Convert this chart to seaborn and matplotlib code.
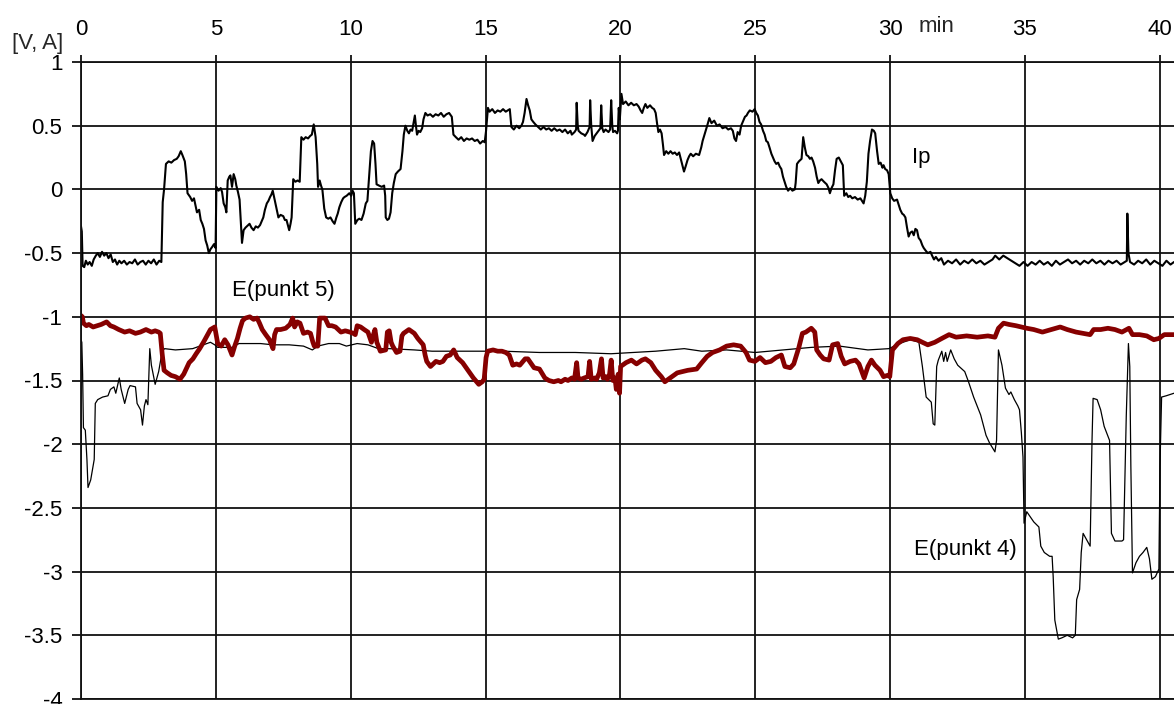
import matplotlib
matplotlib.use("Agg")
import matplotlib.pyplot as plt
import pandas as pd
import seaborn as sns

# ---------------- data (time in min, value in V / A) ----------------
IP_POINTS = [
    (0.00, -0.29), (0.03, -0.33), (0.06, -0.60), (0.12, -0.61), (0.18, -0.56), (0.25, -0.59),
    (0.32, -0.57), (0.40, -0.60), (0.47, -0.55), (0.55, -0.52), (0.62, -0.50), (0.70, -0.53),
    (0.78, -0.49), (0.86, -0.52), (0.94, -0.50), (1.02, -0.54), (1.10, -0.51), (1.18, -0.57),
    (1.26, -0.55), (1.34, -0.59), (1.42, -0.56), (1.50, -0.58), (1.60, -0.56), (1.70, -0.59),
    (1.80, -0.57), (1.90, -0.58), (2.00, -0.55), (2.10, -0.59), (2.20, -0.57), (2.30, -0.56),
    (2.40, -0.59), (2.50, -0.56), (2.60, -0.58), (2.70, -0.55), (2.80, -0.59), (2.90, -0.56),
    (2.98, -0.57), (3.03, -0.10), (3.08, 0.00), (3.15, 0.20), (3.25, 0.22), (3.35, 0.21),
    (3.45, 0.23), (3.55, 0.24), (3.62, 0.26), (3.70, 0.30), (3.76, 0.27), (3.85, 0.22),
    (3.90, 0.12), (3.95, -0.03), (4.05, -0.06), (4.12, -0.09), (4.19, -0.07), (4.25, -0.13),
    (4.30, -0.18), (4.38, -0.16), (4.44, -0.24), (4.50, -0.27), (4.56, -0.31), (4.62, -0.40),
    (4.68, -0.44), (4.74, -0.50), (4.80, -0.47), (4.87, -0.45), (4.93, -0.43), (4.99, -0.46),
    (5.02, 0.02), (5.10, -0.01), (5.18, 0.01), (5.23, -0.02), (5.29, -0.11), (5.35, -0.14),
    (5.39, -0.18), (5.44, 0.07), (5.50, 0.10), (5.54, 0.11), (5.60, 0.02), (5.66, 0.12),
    (5.72, 0.08), (5.76, 0.03), (5.82, -0.02), (5.88, -0.08), (5.97, -0.42), (6.03, -0.32),
    (6.10, -0.30), (6.15, -0.29), (6.25, -0.27), (6.32, -0.30), (6.40, -0.32), (6.48, -0.29),
    (6.56, -0.30), (6.64, -0.28), (6.70, -0.25), (6.76, -0.22), (6.82, -0.16), (6.89, -0.11),
    (6.95, -0.09), (7.01, -0.06), (7.06, -0.04), (7.11, -0.01), (7.15, -0.05), (7.19, -0.09),
    (7.25, -0.15), (7.32, -0.22), (7.40, -0.20), (7.50, -0.21), (7.56, -0.24), (7.62, -0.24),
    (7.67, -0.28), (7.72, -0.32), (7.77, -0.27), (7.81, -0.22), (7.87, 0.08), (7.95, 0.06),
    (8.03, 0.07), (8.11, 0.06), (8.17, 0.41), (8.25, 0.39), (8.33, 0.41), (8.42, 0.40),
    (8.50, 0.42), (8.56, 0.43), (8.63, 0.51), (8.70, 0.41), (8.76, 0.20), (8.79, 0.02),
    (8.85, 0.07), (8.90, 0.03), (8.95, 0.00), (9.02, -0.15), (9.09, -0.22), (9.17, -0.23),
    (9.25, -0.22), (9.33, -0.25), (9.40, -0.27), (9.47, -0.22), (9.52, -0.19), (9.58, -0.14),
    (9.65, -0.10), (9.72, -0.07), (9.77, -0.06), (9.85, -0.05), (9.95, -0.03), (10.02, -0.05),
    (10.07, -0.01), (10.12, -0.03), (10.17, -0.27), (10.25, -0.24), (10.32, -0.23), (10.40, -0.24),
    (10.48, -0.19), (10.56, -0.11), (10.62, -0.09), (10.69, 0.12), (10.75, 0.30), (10.81, 0.38),
    (10.87, 0.36), (10.92, 0.20), (10.96, 0.04), (11.05, 0.03), (11.15, 0.02), (11.24, 0.03),
    (11.28, -0.05), (11.30, -0.22), (11.36, -0.24), (11.42, -0.23), (11.48, -0.18), (11.54, -0.03),
    (11.60, 0.05), (11.67, 0.12), (11.75, 0.14), (11.85, 0.16), (11.92, 0.30), (11.97, 0.43),
    (12.03, 0.50), (12.10, 0.46), (12.16, 0.44), (12.22, 0.47), (12.28, 0.46), (12.33, 0.52),
    (12.38, 0.58), (12.42, 0.50), (12.46, 0.43), (12.52, 0.46), (12.58, 0.45), (12.65, 0.48),
    (12.70, 0.55), (12.77, 0.60), (12.85, 0.58), (12.95, 0.59), (13.05, 0.57), (13.15, 0.59),
    (13.25, 0.58), (13.35, 0.60), (13.45, 0.57), (13.55, 0.59), (13.65, 0.60), (13.75, 0.57),
    (13.81, 0.43), (13.90, 0.41), (14.00, 0.39), (14.10, 0.41), (14.20, 0.38), (14.30, 0.40),
    (14.40, 0.39), (14.50, 0.40), (14.60, 0.38), (14.70, 0.39), (14.80, 0.36), (14.90, 0.38),
    (14.97, 0.37), (15.02, 0.46), (15.09, 0.64), (15.15, 0.61), (15.25, 0.63), (15.35, 0.60),
    (15.45, 0.62), (15.55, 0.61), (15.65, 0.63), (15.75, 0.61), (15.90, 0.63), (15.96, 0.49),
    (16.05, 0.47), (16.15, 0.50), (16.25, 0.48), (16.33, 0.50), (16.39, 0.53), (16.45, 0.60),
    (16.52, 0.71), (16.58, 0.66), (16.64, 0.62), (16.70, 0.55), (16.77, 0.53), (16.85, 0.51),
    (16.95, 0.49), (17.05, 0.47), (17.15, 0.49), (17.25, 0.47), (17.35, 0.48), (17.45, 0.46),
    (17.55, 0.48), (17.65, 0.46), (17.75, 0.47), (17.85, 0.45), (17.95, 0.47), (18.05, 0.44),
    (18.15, 0.46), (18.20, 0.43), (18.30, 0.45), (18.36, 0.47), (18.38, 0.68), (18.42, 0.50),
    (18.45, 0.46), (18.55, 0.44), (18.65, 0.43), (18.69, 0.42), (18.78, 0.45), (18.86, 0.49),
    (18.88, 0.70), (18.92, 0.50), (18.97, 0.38), (19.05, 0.42), (19.12, 0.44), (19.19, 0.46),
    (19.26, 0.48), (19.29, 0.66), (19.33, 0.48), (19.38, 0.45), (19.45, 0.47), (19.56, 0.45),
    (19.62, 0.47), (19.66, 0.70), (19.70, 0.50), (19.73, 0.45), (19.80, 0.46), (19.88, 0.44),
    (19.91, 0.46), (19.94, 0.64), (19.98, 0.55), (20.04, 0.75), (20.10, 0.67), (20.20, 0.69),
    (20.30, 0.66), (20.40, 0.68), (20.50, 0.66), (20.60, 0.67), (20.68, 0.65), (20.75, 0.62),
    (20.81, 0.60), (20.87, 0.64), (20.93, 0.67), (21.00, 0.64), (21.10, 0.66), (21.18, 0.64),
    (21.25, 0.63), (21.31, 0.60), (21.36, 0.52), (21.41, 0.45), (21.47, 0.47), (21.53, 0.44),
    (21.58, 0.35), (21.62, 0.27), (21.70, 0.30), (21.78, 0.28), (21.86, 0.30), (21.94, 0.28),
    (22.02, 0.29), (22.10, 0.27), (22.18, 0.29), (22.24, 0.24), (22.30, 0.19), (22.36, 0.14),
    (22.42, 0.18), (22.49, 0.23), (22.55, 0.26), (22.61, 0.28), (22.70, 0.26), (22.80, 0.28),
    (22.92, 0.27), (23.00, 0.33), (23.05, 0.38), (23.15, 0.45), (23.22, 0.50), (23.30, 0.56),
    (23.38, 0.52), (23.48, 0.54), (23.58, 0.50), (23.68, 0.51), (23.79, 0.48), (23.90, 0.49),
    (24.00, 0.47), (24.10, 0.48), (24.17, 0.46), (24.23, 0.40), (24.29, 0.38), (24.35, 0.45),
    (24.42, 0.43), (24.48, 0.50), (24.54, 0.53), (24.62, 0.57), (24.68, 0.58), (24.73, 0.60),
    (24.80, 0.62), (24.90, 0.61), (24.98, 0.63), (25.04, 0.60), (25.10, 0.58), (25.16, 0.53),
    (25.22, 0.51), (25.29, 0.46), (25.35, 0.43), (25.41, 0.38), (25.47, 0.37), (25.53, 0.33),
    (25.60, 0.28), (25.66, 0.25), (25.72, 0.22), (25.78, 0.20), (25.85, 0.21), (25.91, 0.18),
    (25.97, 0.16), (26.03, 0.10), (26.09, 0.06), (26.15, 0.02), (26.22, -0.01), (26.30, 0.01),
    (26.38, -0.01), (26.47, 0.00), (26.50, 0.05), (26.55, 0.20), (26.62, 0.22), (26.72, 0.24),
    (26.75, 0.32), (26.78, 0.41), (26.84, 0.33), (26.90, 0.27), (26.97, 0.26), (27.03, 0.24),
    (27.09, 0.25), (27.15, 0.22), (27.22, 0.17), (27.28, 0.10), (27.34, 0.05), (27.40, 0.07),
    (27.46, 0.08), (27.55, 0.06), (27.65, 0.04), (27.72, 0.01), (27.77, -0.03), (27.83, 0.01),
    (27.90, 0.04), (27.96, 0.15), (28.02, 0.24), (28.10, 0.25), (28.15, 0.23), (28.25, 0.19),
    (28.30, -0.05), (28.38, -0.03), (28.45, -0.06), (28.52, -0.05), (28.60, -0.07), (28.70, -0.06),
    (28.80, -0.08), (28.90, -0.07), (29.02, -0.11), (29.08, -0.05), (29.14, 0.06), (29.20, 0.28),
    (29.26, 0.38), (29.33, 0.47), (29.40, 0.46), (29.45, 0.44), (29.52, 0.30), (29.58, 0.20),
    (29.65, 0.21), (29.72, 0.17), (29.76, 0.19), (29.82, 0.16), (29.89, 0.15), (29.95, 0.12),
    (30.01, -0.03), (30.08, -0.07), (30.15, -0.09), (30.26, -0.08), (30.32, -0.12), (30.38, -0.16),
    (30.45, -0.19), (30.51, -0.20), (30.57, -0.22), (30.63, -0.30), (30.69, -0.37), (30.75, -0.34),
    (30.82, -0.33), (30.88, -0.36), (30.94, -0.31), (31.00, -0.32), (31.06, -0.38), (31.13, -0.40),
    (31.20, -0.44), (31.25, -0.46), (31.32, -0.48), (31.40, -0.50), (31.50, -0.49), (31.56, -0.52),
    (31.63, -0.55), (31.70, -0.53), (31.80, -0.56), (31.90, -0.54), (32.00, -0.59), (32.15, -0.56),
    (32.30, -0.58), (32.45, -0.55), (32.60, -0.59), (32.75, -0.56), (32.90, -0.58), (33.05, -0.55),
    (33.20, -0.58), (33.35, -0.56), (33.50, -0.59), (33.65, -0.57), (33.80, -0.55), (33.90, -0.52),
    (34.05, -0.55), (34.20, -0.52), (34.35, -0.54), (34.50, -0.56), (34.65, -0.58), (34.80, -0.60),
    (34.95, -0.57), (35.10, -0.60), (35.25, -0.57), (35.40, -0.59), (35.55, -0.56), (35.70, -0.59),
    (35.85, -0.57), (36.00, -0.60), (36.15, -0.56), (36.30, -0.59), (36.45, -0.57), (36.60, -0.55),
    (36.75, -0.58), (36.90, -0.56), (37.05, -0.59), (37.20, -0.56), (37.35, -0.58), (37.50, -0.55),
    (37.65, -0.58), (37.80, -0.56), (37.95, -0.59), (38.10, -0.56), (38.25, -0.58), (38.40, -0.56),
    (38.55, -0.59), (38.70, -0.57), (38.78, -0.56), (38.80, -0.19), (38.84, -0.50), (38.90, -0.57),
    (39.05, -0.59), (39.20, -0.56), (39.35, -0.58), (39.50, -0.55), (39.65, -0.59), (39.80, -0.56),
    (39.95, -0.58), (40.10, -0.60), (40.25, -0.56), (40.40, -0.59), (40.53, -0.57),
]

E5_POINTS = [
    (0.00, -0.99), (0.05, -1.00), (0.09, -1.05), (0.20, -1.07), (0.29, -1.06), (0.45, -1.08),
    (0.60, -1.07), (0.75, -1.06), (0.95, -1.04), (1.09, -1.07), (1.22, -1.08), (1.40, -1.10),
    (1.62, -1.12), (1.80, -1.11), (2.02, -1.13), (2.20, -1.12), (2.41, -1.10), (2.61, -1.12),
    (2.75, -1.11), (2.88, -1.12), (2.94, -1.13), (3.01, -1.29), (3.08, -1.42), (3.20, -1.44),
    (3.34, -1.46), (3.50, -1.47), (3.67, -1.49), (3.81, -1.45), (4.01, -1.36), (4.15, -1.33),
    (4.27, -1.29), (4.40, -1.25), (4.54, -1.20), (4.67, -1.15), (4.80, -1.10), (4.96, -1.08),
    (5.07, -1.21), (5.20, -1.23), (5.33, -1.18), (5.45, -1.22), (5.60, -1.30), (5.70, -1.23),
    (5.80, -1.17), (5.90, -1.09), (5.99, -1.03), (6.10, -1.01), (6.26, -1.00), (6.40, -1.02),
    (6.53, -1.01), (6.62, -1.05), (6.72, -1.10), (6.85, -1.14), (6.99, -1.18), (7.12, -1.25),
    (7.18, -1.14), (7.25, -1.10), (7.40, -1.10), (7.59, -1.09), (7.75, -1.06), (7.85, -1.01),
    (7.92, -1.08), (8.02, -1.04), (8.12, -1.05), (8.25, -1.13), (8.40, -1.12), (8.51, -1.13),
    (8.60, -1.20), (8.65, -1.23), (8.78, -1.23), (8.85, -1.01), (9.05, -1.01), (9.18, -1.07),
    (9.30, -1.07), (9.44, -1.08), (9.64, -1.12), (9.80, -1.11), (9.97, -1.12), (10.10, -1.13),
    (10.17, -1.14), (10.24, -1.07), (10.37, -1.08), (10.50, -1.10), (10.64, -1.12), (10.77, -1.20),
    (10.83, -1.15), (10.90, -1.10), (10.97, -1.20), (11.10, -1.27), (11.30, -1.26), (11.36, -1.12),
    (11.43, -1.11), (11.50, -1.20), (11.56, -1.23), (11.70, -1.28), (11.83, -1.27), (11.90, -1.15),
    (11.96, -1.13), (12.16, -1.10), (12.36, -1.13), (12.49, -1.17), (12.69, -1.22), (12.76, -1.30),
    (12.82, -1.35), (12.96, -1.39), (13.16, -1.35), (13.30, -1.36), (13.42, -1.35), (13.55, -1.31),
    (13.69, -1.30), (13.82, -1.26), (13.95, -1.32), (14.15, -1.36), (14.35, -1.42), (14.55, -1.48),
    (14.75, -1.53), (14.88, -1.51), (14.95, -1.49), (15.02, -1.32), (15.08, -1.27), (15.28, -1.26),
    (15.45, -1.27), (15.61, -1.27), (15.75, -1.28), (15.88, -1.30), (16.01, -1.38), (16.15, -1.37),
    (16.27, -1.38), (16.47, -1.33), (16.57, -1.33), (16.67, -1.36), (16.80, -1.40), (17.00, -1.41),
    (17.20, -1.48), (17.35, -1.50), (17.53, -1.51), (17.70, -1.50), (17.80, -1.51), (17.95, -1.49),
    (18.06, -1.50), (18.20, -1.48), (18.30, -1.49), (18.38, -1.36), (18.43, -1.48), (18.55, -1.49),
    (18.66, -1.48), (18.80, -1.47), (18.86, -1.35), (18.92, -1.49), (19.05, -1.48), (19.12, -1.49),
    (19.22, -1.44), (19.30, -1.33), (19.36, -1.48), (19.45, -1.47), (19.52, -1.49), (19.60, -1.45),
    (19.66, -1.34), (19.72, -1.50), (19.80, -1.48), (19.85, -1.57), (19.92, -1.45), (19.97, -1.60),
    (20.01, -1.39), (20.21, -1.36), (20.41, -1.34), (20.60, -1.37), (20.80, -1.34), (20.93, -1.33),
    (21.13, -1.36), (21.31, -1.42), (21.52, -1.47), (21.65, -1.51), (21.85, -1.48), (22.11, -1.44),
    (22.30, -1.43), (22.50, -1.42), (22.83, -1.41), (23.02, -1.36), (23.22, -1.31), (23.42, -1.28),
    (23.68, -1.26), (23.94, -1.23), (24.20, -1.22), (24.46, -1.23), (24.66, -1.28), (24.79, -1.34),
    (24.99, -1.35), (25.18, -1.32), (25.38, -1.36), (25.58, -1.35), (25.77, -1.32), (25.97, -1.30),
    (26.10, -1.39), (26.30, -1.40), (26.43, -1.37), (26.62, -1.24), (26.75, -1.13), (26.88, -1.12),
    (27.08, -1.09), (27.21, -1.12), (27.28, -1.26), (27.41, -1.30), (27.54, -1.33), (27.74, -1.34),
    (27.87, -1.22), (28.06, -1.21), (28.19, -1.31), (28.32, -1.37), (28.52, -1.35), (28.72, -1.34),
    (28.85, -1.37), (29.04, -1.48), (29.18, -1.39), (29.31, -1.34), (29.44, -1.38), (29.63, -1.42),
    (29.76, -1.47), (29.90, -1.46), (29.99, -1.47), (30.09, -1.26), (30.29, -1.21), (30.48, -1.18),
    (30.75, -1.17), (31.01, -1.18), (31.20, -1.20), (31.40, -1.22), (31.66, -1.20), (31.92, -1.17),
    (32.19, -1.14), (32.45, -1.16), (32.84, -1.15), (33.23, -1.16), (33.63, -1.15), (33.89, -1.16),
    (34.02, -1.09), (34.21, -1.05), (34.41, -1.06), (34.67, -1.07), (34.87, -1.08), (35.07, -1.09),
    (35.33, -1.10), (35.65, -1.12), (35.98, -1.10), (36.31, -1.08), (36.57, -1.10), (36.90, -1.12),
    (37.16, -1.13), (37.42, -1.14), (37.55, -1.10), (37.81, -1.10), (38.08, -1.09), (38.34, -1.10),
    (38.60, -1.12), (38.86, -1.09), (38.99, -1.14), (39.25, -1.14), (39.52, -1.15), (39.78, -1.18),
    (39.97, -1.17), (40.17, -1.14), (40.53, -1.14),
]

E4_POINTS = [
    (0.00, -1.18), (0.03, -1.20), (0.06, -1.45), (0.09, -1.87), (0.16, -1.89), (0.22, -2.12),
    (0.26, -2.34), (0.36, -2.28), (0.49, -2.12), (0.53, -1.68), (0.62, -1.65), (0.80, -1.63),
    (1.00, -1.62), (1.09, -1.57), (1.22, -1.55), (1.29, -1.60), (1.42, -1.48), (1.49, -1.57),
    (1.62, -1.68), (1.75, -1.57), (1.82, -1.54), (2.02, -1.55), (2.08, -1.68), (2.21, -1.73),
    (2.28, -1.85), (2.35, -1.70), (2.41, -1.65), (2.48, -1.69), (2.55, -1.25), (2.61, -1.38),
    (2.75, -1.53), (2.88, -1.43), (3.01, -1.27), (3.10, -1.25), (3.50, -1.26), (4.14, -1.25),
    (4.54, -1.22), (4.80, -1.20), (4.96, -1.22), (5.07, -1.24), (5.60, -1.24), (5.86, -1.21),
    (6.66, -1.21), (7.12, -1.22), (7.72, -1.22), (8.25, -1.23), (8.58, -1.26), (8.78, -1.23),
    (9.18, -1.21), (9.58, -1.21), (9.84, -1.23), (10.24, -1.21), (10.64, -1.22), (11.03, -1.25),
    (11.43, -1.25), (12.36, -1.26), (13.02, -1.27), (14.35, -1.27), (15.67, -1.27), (17.00, -1.28),
    (18.33, -1.28), (19.65, -1.29), (20.50, -1.28), (21.31, -1.27), (22.37, -1.25), (23.02, -1.27),
    (23.94, -1.26), (25.00, -1.28), (26.03, -1.26), (27.08, -1.24), (28.13, -1.23), (29.18, -1.26),
    (29.96, -1.25), (30.35, -1.21), (30.75, -1.18), (31.07, -1.20), (31.20, -1.39), (31.34, -1.63),
    (31.53, -1.67), (31.60, -1.84), (31.66, -1.85), (31.73, -1.39), (31.79, -1.34), (31.92, -1.27),
    (31.99, -1.35), (32.06, -1.28), (32.12, -1.35), (32.25, -1.26), (32.38, -1.33), (32.51, -1.38),
    (32.77, -1.43), (32.91, -1.51), (33.10, -1.63), (33.36, -1.77), (33.56, -1.93), (33.69, -1.99),
    (33.89, -2.06), (33.95, -1.97), (34.02, -1.26), (34.15, -1.38), (34.28, -1.56), (34.41, -1.61),
    (34.48, -1.59), (34.61, -1.65), (34.74, -1.70), (34.80, -1.73), (34.87, -1.91), (34.93, -2.10),
    (34.97, -2.62), (35.07, -2.53), (35.20, -2.57), (35.33, -2.61), (35.52, -2.65), (35.59, -2.80),
    (35.72, -2.85), (35.92, -2.88), (36.01, -2.88), (36.05, -3.04), (36.11, -3.38), (36.24, -3.53),
    (36.37, -3.52), (36.57, -3.50), (36.77, -3.52), (36.87, -3.50), (36.92, -3.22), (37.03, -3.14),
    (37.09, -2.85), (37.16, -2.70), (37.29, -2.75), (37.42, -2.80), (37.49, -1.97), (37.53, -1.64),
    (37.68, -1.65), (37.81, -1.73), (37.94, -1.86), (38.14, -1.97), (38.21, -2.70), (38.34, -2.76),
    (38.60, -2.76), (38.66, -2.75), (38.76, -1.78), (38.84, -1.21), (38.89, -1.39), (38.93, -2.17),
    (38.99, -3.01), (39.12, -2.93), (39.25, -2.88), (39.38, -2.85), (39.52, -2.81), (39.62, -2.90),
    (39.71, -3.06), (39.84, -3.04), (39.97, -2.98), (40.01, -2.17), (40.07, -1.63), (40.24, -1.62),
    (40.53, -1.60),
]

X_TICKS = [0, 5, 10, 15, 20, 25, 30, 35, 40]
X_TICK_LABELS = ["0", "5", "10", "15", "20", "25", "30", "35", "40"]
Y_TICKS = [1, 0.5, 0, -0.5, -1, -1.5, -2, -2.5, -3, -3.5, -4]
Y_TICK_LABELS = ["1", "0.5", "0", "-0.5", "-1", "-1.5", "-2", "-2.5", "-3", "-3.5", "-4"]
X_LIMITS = (0, 40.53)
Y_LIMITS = (-4, 1)
SERIES_LABELS = [("Ip", 30.8, 0.25), ("E(punkt 5)", 5.6, -0.79), ("E(punkt 4)", 30.9, -2.83)]
UNIT_LABEL = "[V, A]"
TIME_LABEL = "min"

# ---------------- style ----------------
sns.set_style("white")
plt.rcParams["font.family"] = ["Liberation Sans", "DejaVu Sans"]
plt.rcParams["axes.unicode_minus"] = False

GRID = "#111111"
RED = "#860000"
FS = 16

fig = plt.figure(figsize=(11.74, 7.04), dpi=100)
fig.patch.set_facecolor("white")
ax = fig.add_axes([81 / 1174, 5 / 704, 1093 / 1174, 637 / 704])


def frame(points):
    return pd.DataFrame(points, columns=["t", "v"])


sns.lineplot(data=frame(E4_POINTS), x="t", y="v", estimator=None, sort=False,
             color="black", linewidth=0.9, ax=ax)
sns.lineplot(data=frame(IP_POINTS), x="t", y="v", estimator=None, sort=False,
             color="black", linewidth=1.5, ax=ax)
sns.lineplot(data=frame(E5_POINTS), x="t", y="v", estimator=None, sort=False,
             color=RED, linewidth=3.4, ax=ax)

ax.set_xlim(*X_LIMITS)
ax.set_ylim(*Y_LIMITS)
ax.set_xlabel("")
ax.set_ylabel("")

ax.xaxis.tick_top()
ax.set_xticks(X_TICKS)
ax.set_xticklabels(X_TICK_LABELS)
ax.set_yticks(Y_TICKS)
ax.set_yticklabels(Y_TICK_LABELS)
ax.tick_params(axis="x", top=True, bottom=False, labeltop=True, labelbottom=False,
               direction="out", length=5, width=1.3, color=GRID, pad=11,
               labelsize=FS, labelcolor="black")
ax.tick_params(axis="y", left=True, right=False, direction="out", length=6.5,
               width=1.3, color=GRID, pad=7, labelsize=FS, labelcolor="black")

ax.grid(True, color=GRID, linewidth=1.3)
ax.set_axisbelow(True)
for side in ["left", "top", "bottom"]:
    ax.spines[side].set_visible(True)
    ax.spines[side].set_color(GRID)
    ax.spines[side].set_linewidth(1.3)
ax.spines["right"].set_visible(False)

for text, tx, ty in SERIES_LABELS:
    ax.text(tx, ty, text, fontsize=FS, ha="left", va="center", color="black")

fig.text(12 / 1174, 1 - 43 / 704, UNIT_LABEL, fontsize=FS, ha="left", va="center")
fig.text(937 / 1174, 1 - 27 / 704, TIME_LABEL, fontsize=FS, ha="center", va="center")

fig.savefig("out.png", dpi=100, facecolor="white")
